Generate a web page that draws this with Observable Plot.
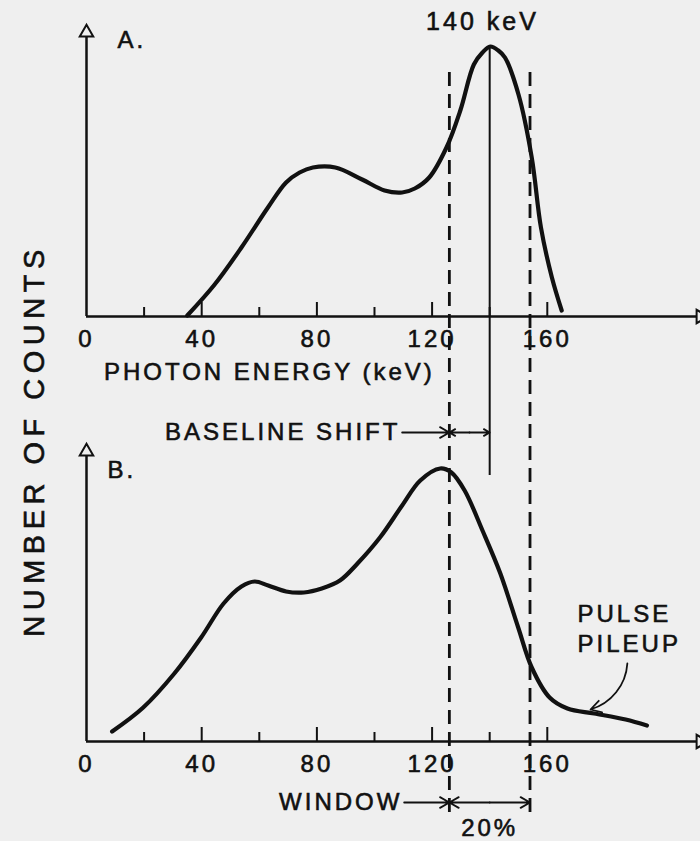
<!DOCTYPE html>
<html><head><meta charset="utf-8">
<script src="https://cdn.jsdelivr.net/npm/d3@7"></script>
<script src="https://cdn.jsdelivr.net/npm/@observablehq/plot@0.6"></script>
<style>
html,body{margin:0;padding:0;background:#efefef}
#fig{position:relative;width:700px;height:841px;background:#efefef;overflow:hidden}
#fig svg{position:absolute;left:0;overflow:visible}
#fig svg text{stroke:#111;stroke-width:0.6px}
</style></head>
<body><div id="fig"></div>
<script>
// ---- data ----
const energyA = [35, 44.5, 53.8, 63, 69.3, 74, 78.6, 86.4, 95.7, 103.5, 109.6, 114, 119, 125, 129.8, 134.5, 137.5, 140.2, 143, 145.3, 150, 154.6, 157.8, 161.6, 165];
const countsA = [1, 32, 69, 109, 134, 144, 149, 149, 137, 126, 124, 128, 139, 169, 206, 252, 264, 270, 266, 259, 222, 159, 89, 39, 6];
const energyB = [8.9, 19.7, 30.5, 39.8, 47.6, 53.8, 58.4, 63.1, 69.3, 75.5, 81.7, 88, 94.1, 101.9, 109.6, 115.9, 122.8, 126.7, 131.3, 137.5, 143.7, 149.9, 154.6, 160.8, 167, 176.3, 187.2, 194.6];
const countsB = [10, 34, 68, 104, 138, 155, 160, 156, 150, 149, 153, 161, 178, 204, 236, 261, 273, 269, 251, 211, 168, 114, 74, 44, 33, 28, 22, 16];
const tickLabels = [0, 40, 80, 120, 160];
const tickMarks = [20, 40, 60, 80, 100, 120, 140, 160];
const photopeak = 140;               // keV
const windowBounds = [126, 154];     // 20% window centred on 140 keV
const xMax = 213.2;

const ink = "#111";
const bg = "#efefef";
const baseStyle = {fontFamily: "'Liberation Sans', Arial, sans-serif", fontSize: "24px", letterSpacing: "3px", background: "transparent", color: ink};
const xScale = {domain: [0, xMax], ticks: tickLabels, tickSize: 0, tickPadding: 13, label: null};

const rowsA = energyA.map((e, i) => ({e, c: countsA[i]}));
const rowsB = energyB.map((e, i) => ({e, c: countsB[i]}));

function axisMarks(yTop) {
  return [
    Plot.ruleY([0], {stroke: ink, strokeWidth: 2.5}),
    Plot.ruleX([0], {y1: 0, y2: yTop, stroke: ink, strokeWidth: 2.5}),
    Plot.dot([0], {x: d => d, y: yTop + 3, symbol: "triangle", r: 5, fill: bg, stroke: ink, strokeWidth: 2}),
    Plot.dot([xMax], {x: d => d, y: 0, symbol: "triangle", r: 5, rotate: 90, fill: bg, stroke: ink, strokeWidth: 2}),
    Plot.ruleX(tickMarks, {y1: 0, y2: d => d % 40 === 0 ? 14 : 9, stroke: ink, strokeWidth: 2})
  ];
}

// ---- Panel A ----
const plotA = Plot.plot({
  width: 700, height: 420,
  marginLeft: 86, marginRight: 0, marginTop: 26, marginBottom: 104,
  x: xScale,
  y: {domain: [0, 290], axis: null},
  style: baseStyle,
  marks: [
    ...axisMarks(281),
    Plot.ruleX([photopeak], {y1: d3.max(countsA), y2: -159, stroke: ink, strokeWidth: 2}),
    Plot.line(rowsA, {x: "e", y: "c", curve: "catmull-rom", stroke: ink, strokeWidth: 4.2}),
    Plot.text(["A."], {x: 10.8, y: 276, textAnchor: "start", fill: ink}),
    Plot.text(["140 keV"], {x: 137.5, y: 295, fill: ink, fontSize: 25}),
    Plot.text(["PHOTON ENERGY (keV)"], {x: 63.5, y: -56, fill: ink})
  ]
});
plotA.style.top = "0px";

// ---- Panel B ----
const plotB = Plot.plot({
  width: 700, height: 421,
  marginLeft: 86, marginRight: 0, marginTop: 28, marginBottom: 100,
  x: xScale,
  y: {domain: [0, 293], axis: null},
  style: baseStyle,
  marks: [
    ...axisMarks(287),
    Plot.line(rowsB, {x: "e", y: "c", curve: "catmull-rom", stroke: ink, strokeWidth: 4.2}),
    Plot.text(["B."], {x: 7.3, y: 271, textAnchor: "start", fill: ink}),
    // baseline shift annotation
    Plot.text(["BASELINE SHIFT"], {x: 109, y: 309, textAnchor: "end", fill: ink}),
    Plot.arrow([{a: 109.6, b: windowBounds[0]}], {x1: "a", x2: "b", y1: 309, y2: 309, stroke: ink, strokeWidth: 1.8, headLength: 9}),
    Plot.arrow([{a: 133, b: windowBounds[0]}, {a: 133, b: photopeak}], {x1: "a", x2: "b", y1: 309, y2: 309, stroke: ink, strokeWidth: 1.8, headLength: 9}),
    // window annotation
    Plot.text(["WINDOW"], {x: 109.7, y: -61, textAnchor: "end", fill: ink}),
    Plot.arrow([{a: 110.3, b: windowBounds[0]}], {x1: "a", x2: "b", y1: -61, y2: -61, stroke: ink, strokeWidth: 1.8, headLength: 9}),
    Plot.arrow([{a: photopeak, b: windowBounds[0]}, {a: photopeak, b: windowBounds[1]}], {x1: "a", x2: "b", y1: -61, y2: -61, stroke: ink, strokeWidth: 1.8, headLength: 9}),
    Plot.text(["20%"], {x: photopeak, y: -87, fill: ink}),
    // pulse pileup
    Plot.text(["PULSE", "PILEUP"], {x: 170.5, y: (d, i) => i === 0 ? 127 : 97, textAnchor: "start", fill: ink}),
    Plot.arrow([{x1: 187.8, y1: 78, x2: 175, y2: 32}], {x1: "x1", y1: "y1", x2: "x2", y2: "y2", bend: 35, stroke: ink, strokeWidth: 1.8, headLength: 10})
  ]
});
plotB.style.top = "420px";

// ---- overlay: window lines spanning both panels and shared y label ----
const overlay = Plot.plot({
  width: 700, height: 841,
  marginLeft: 86, marginRight: 0, marginTop: 72, marginBottom: 29,
  x: {domain: [0, xMax], axis: null},
  y: {axis: null},
  style: {...baseStyle, letterSpacing: "5.5px"},
  marks: [
    Plot.ruleX(windowBounds, {stroke: ink, strokeWidth: 2.8, strokeDasharray: "14,8"}),
    Plot.text(["NUMBER OF COUNTS"], {frameAnchor: "left", textAnchor: "middle", dx: -52, dy: -2, rotate: -90, fontSize: 29, fill: ink})
  ]
});
overlay.style.top = "0px";

const fig = document.getElementById("fig");
fig.append(plotA, plotB, overlay);
</script>
</body></html>
